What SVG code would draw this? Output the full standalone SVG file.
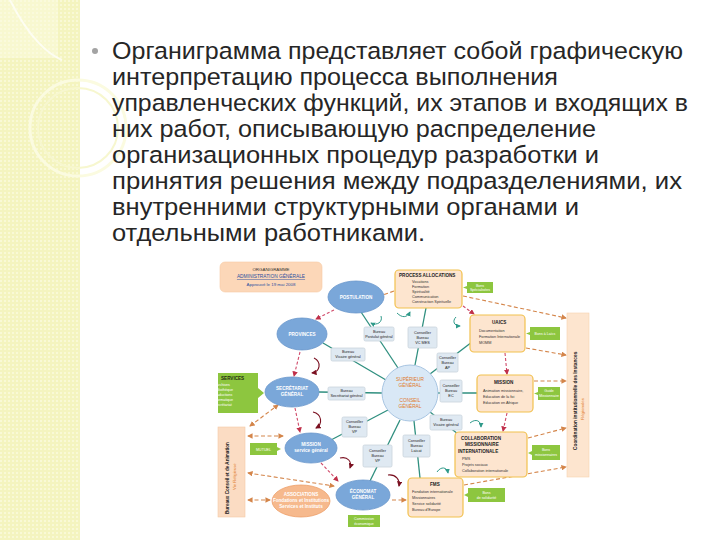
<svg xmlns="http://www.w3.org/2000/svg" width="720" height="540" viewBox="0 0 720 540">
<defs>
<pattern id="grid" width="4" height="4" patternUnits="userSpaceOnUse"><rect width="4" height="4" fill="#f4f4bf"/><rect width="2" height="2" fill="#f9f9d6"/></pattern>
<marker id="ao" viewBox="0 0 6 6" refX="5" refY="3" markerWidth="5" markerHeight="5" orient="auto-start-reverse"><path d="M0,0 L6,3 L0,6 z" fill="#d4854a"/></marker>
<marker id="ar" viewBox="0 0 6 6" refX="5" refY="3" markerWidth="5" markerHeight="5" orient="auto-start-reverse"><path d="M0,0 L6,3 L0,6 z" fill="#c0304a"/></marker>
<marker id="at" viewBox="0 0 6 6" refX="5" refY="3" markerWidth="5" markerHeight="5" orient="auto"><path d="M0,0 L6,3 L0,6 z" fill="#2f9a8a"/></marker>
<marker id="ad" viewBox="0 0 6 6" refX="5" refY="3" markerWidth="5" markerHeight="5" orient="auto"><path d="M0,0 L6,3 L0,6 z" fill="#7a1020"/></marker>
<style>
.body{font-family:"Liberation Sans","DejaVu Sans",sans-serif;font-size:24.5px;fill:#262626}
.ell{fill:#7aa7d9;stroke:#6a97cc;stroke-width:0.8}
.et{font-family:"Liberation Sans",sans-serif;font-size:4.6px;fill:#ffffff;font-weight:bold;text-anchor:middle}
.pb{fill:#fde5cf;stroke:#f2c14e;stroke-width:1.2}
.pt{font-family:"Liberation Sans",sans-serif;font-size:4.6px;fill:#222;font-weight:bold}
.pi{font-family:"Liberation Sans",sans-serif;font-size:3.8px;fill:#333}
.lb{fill:#dfe9f2;stroke:#c9d3dc;stroke-width:0.8}
.lt{font-family:"Liberation Sans",sans-serif;font-size:3.8px;fill:#222;text-anchor:middle}
.gb{fill:#8dc63f}
.gt{font-family:"Liberation Sans",sans-serif;font-size:3.6px;fill:#ffffff;text-anchor:middle}
.teal{stroke:#2f8f7f;stroke-width:1.3;fill:none}
.od{stroke:#d4854a;stroke-width:1.1;stroke-dasharray:4 2.5;fill:none}
.rd{stroke:#d04a6a;stroke-width:1.1;stroke-dasharray:3 2;fill:none}
.ct{stroke:#2f9a8a;stroke-width:1;fill:none}
.cr{stroke:#7a1020;stroke-width:1.1;fill:none}
</style>
</defs>
<rect width="720" height="540" fill="#ffffff"/>
<g id="sidebar">
<rect x="0" y="0" width="80" height="540" fill="url(#grid)"/>
<path d="M0,0 H58 V58 L0,58 Z" fill="#fbfbe2" opacity="0.5"/>
<path d="M10,0 C30,40 50,55 62,60" stroke="#ffffff" stroke-width="2" fill="none" opacity="0.7"/>
<circle cx="78" cy="128" r="48" stroke="#fbfbe0" stroke-width="3" fill="none"/>
<circle cx="78" cy="128" r="40" stroke="#f7f7cf" stroke-width="2" fill="none"/>
</g>
<g id="text">
<circle cx="95" cy="51" r="3" fill="#a3a3a3"/>
<text class="body" x="112" y="59" textLength="571" lengthAdjust="spacingAndGlyphs">Органиграмма представляет собой графическую</text>
<text class="body" x="112" y="85" textLength="446" lengthAdjust="spacingAndGlyphs">интерпретацию процесса выполнения</text>
<text class="body" x="112" y="111" textLength="576" lengthAdjust="spacingAndGlyphs">управленческих функций, их этапов и входящих в</text>
<text class="body" x="112" y="137" textLength="484" lengthAdjust="spacingAndGlyphs">них работ, описывающую распределение</text>
<text class="body" x="112" y="163" textLength="487" lengthAdjust="spacingAndGlyphs">организационных процедур разработки и</text>
<text class="body" x="112" y="189" textLength="570" lengthAdjust="spacingAndGlyphs">принятия решения между подразделениями, их</text>
<text class="body" x="112" y="215" textLength="467" lengthAdjust="spacingAndGlyphs">внутренними структурными органами и</text>
<text class="body" x="112" y="241" textLength="313" lengthAdjust="spacingAndGlyphs">отдельными работниками.</text>
</g>
<g id="connectors">
<line class="teal" x1="398" y1="368" x2="361" y2="312"/>
<line class="teal" x1="386" y1="380" x2="323" y2="343"/>
<line class="teal" x1="382" y1="393" x2="319" y2="392"/>
<line class="teal" x1="388" y1="410" x2="331" y2="440"/>
<line class="teal" x1="400" y1="420" x2="370" y2="481"/>
<line class="teal" x1="415" y1="365" x2="426" y2="308"/>
<line class="teal" x1="430" y1="374" x2="472" y2="342"/>
<line class="teal" x1="438" y1="393" x2="477" y2="393"/>
<line class="teal" x1="430" y1="412" x2="458" y2="434"/>
<line class="teal" x1="414" y1="421" x2="420" y2="478"/>
<line class="od" x1="250" y1="426" x2="278" y2="405" marker-start="url(#ao)" marker-end="url(#ao)"/>
<line class="od" x1="248" y1="436" x2="283" y2="436" marker-start="url(#ao)" marker-end="url(#ao)"/>
<line class="od" x1="248" y1="473" x2="334" y2="486" marker-start="url(#ao)" marker-end="url(#ao)"/>
<line class="od" x1="248" y1="500" x2="270" y2="500" marker-start="url(#ao)" marker-end="url(#ao)"/>
<line class="od" x1="392" y1="500" x2="406" y2="500" marker-end="url(#ao)"/>
<line class="od" x1="394" y1="291" x2="383" y2="295"/>
<line class="od" x1="463" y1="296" x2="566" y2="318" marker-end="url(#ao)"/>
<line class="od" x1="526" y1="348" x2="566" y2="355" marker-end="url(#ao)"/>
<line class="od" x1="534" y1="381" x2="566" y2="381" marker-end="url(#ao)"/>
<line class="od" x1="528" y1="438" x2="566" y2="428" marker-end="url(#ao)"/>
<line class="od" x1="464" y1="485" x2="566" y2="467" marker-end="url(#ao)"/>
<line class="rd" x1="334" y1="310" x2="316" y2="319" marker-end="url(#ar)"/>
<line class="rd" x1="300" y1="352" x2="294" y2="376" marker-end="url(#ar)"/>
<line class="rd" x1="295" y1="408" x2="300" y2="432" marker-end="url(#ar)"/>
<line class="rd" x1="321" y1="463" x2="338" y2="481" marker-end="url(#ar)"/>
<line class="rd" x1="463" y1="306" x2="474" y2="314" marker-end="url(#ar)"/>
<line class="rd" x1="505" y1="353" x2="507" y2="374" marker-end="url(#ar)"/>
<line class="rd" x1="507" y1="413" x2="503" y2="431" marker-end="url(#ar)"/>
<path class="cr" d="M314,358 C322,362 320,372 312,373" marker-end="url(#ad)"/>
<path class="cr" d="M313,412 C322,414 323,424 316,428" marker-end="url(#ad)"/>
<path class="cr" d="M340,458 C348,456 352,462 350,468" marker-end="url(#ad)"/>
<path class="cr" d="M388,475 C396,474 400,480 399,486" marker-end="url(#ad)"/>
<path class="ct" d="M381,316 C383,322 377,326 371,323" marker-end="url(#at)"/>
<path class="ct" d="M397,313 C402,318 407,318 410,312" marker-end="url(#at)"/>
<path class="ct" d="M456,317 C452,321 454,326 460,326" marker-end="url(#at)"/>
<path class="ct" d="M470,423 C476,418 481,421 481,427" marker-end="url(#at)"/>
<path class="ct" d="M437,472 C441,466 447,467 448,473" marker-end="url(#at)"/>
</g>
<g id="title-box">
<rect x="220" y="262" width="102" height="30" rx="5" fill="#fcd7b8" stroke="#f7cba5" stroke-width="0.6"/>
<text x="271" y="271" font-family="Liberation Sans,sans-serif" font-size="4.4" fill="#333" text-anchor="middle">ORGANIGRAMME</text>
<text x="271" y="278" font-family="Liberation Sans,sans-serif" font-size="4.8" fill="#2b4fa0" text-anchor="middle" text-decoration="underline">ADMINISTRATION GÉNÉRALE</text>
<text x="271" y="286" font-family="Liberation Sans,sans-serif" font-size="4.4" fill="#2b4fa0" text-anchor="middle">Approuvé le 19 mai 2008</text>
</g>
<g id="postulation"><ellipse class="ell" cx="356" cy="297" rx="28" ry="16"/><text class="et" x="356" y="299">POSTULATION</text></g>
<g id="provinces"><ellipse class="ell" cx="302" cy="334" rx="25" ry="16"/><text class="et" x="302" y="336">PROVINCES</text></g>
<g id="secretariat"><ellipse class="ell" cx="292" cy="392" rx="27" ry="15"/><text class="et" x="292" y="390">SECRÉTARIAT</text><text class="et" x="292" y="396">GÉNÉRAL</text></g>
<g id="mission-ell"><ellipse class="ell" cx="311" cy="448" rx="26" ry="15"/><text class="et" x="311" y="446">MISSION</text><text class="et" x="311" y="452">service général</text></g>
<g id="economat"><ellipse class="ell" cx="363" cy="495" rx="27" ry="15"/><text class="et" x="363" y="493">ÉCONOMAT</text><text class="et" x="363" y="499">GÉNÉRAL</text></g>
<g id="orange-ell"><ellipse cx="301" cy="501" rx="29" ry="16" fill="#f6b98d" stroke="#ed9f6a" stroke-width="0.8"/><text class="et" x="301" y="496" font-weight="normal">ASSOCIATIONS</text><text class="et" x="301" y="502" font-weight="normal">Fondations et Institutions</text><text class="et" x="301" y="508" font-weight="normal">Services et Instituts</text></g>
<g id="center">
<circle cx="410" cy="393" r="28" fill="#d9e8f6" stroke="#a8c5e2" stroke-width="1"/>
<text x="410" y="381" font-family="Liberation Sans,sans-serif" font-size="4.8" fill="#e07a2a" text-anchor="middle">SUPÉRIEUR</text>
<text x="410" y="387" font-family="Liberation Sans,sans-serif" font-size="4.8" fill="#e07a2a" text-anchor="middle">GÉNÉRAL</text>
<text x="410" y="402" font-family="Liberation Sans,sans-serif" font-size="4.8" fill="#e07a2a" text-anchor="middle">CONSEIL</text>
<text x="410" y="408" font-family="Liberation Sans,sans-serif" font-size="4.8" fill="#e07a2a" text-anchor="middle">GÉNÉRAL</text>
</g>
<g id="lb1"><rect class="lb" x="364" y="327" width="30" height="14" rx="1.5"/><text class="lt" x="379" y="333">Bureau</text><text class="lt" x="379" y="338">Postulat général</text></g>
<g id="lb2"><rect class="lb" x="331" y="348" width="34" height="13" rx="1.5"/><text class="lt" x="348" y="353">Bureau</text><text class="lt" x="348" y="358">Vicaire général</text></g>
<g id="lb3"><rect class="lb" x="328" y="387" width="37" height="13" rx="1.5"/><text class="lt" x="346.5" y="392">Bureau</text><text class="lt" x="346.5" y="397">Secrétariat général</text></g>
<g id="lb4"><rect class="lb" x="342" y="417" width="25" height="20" rx="1.5"/><text class="lt" x="354.5" y="423">Conseiller</text><text class="lt" x="354.5" y="428">Bureau</text><text class="lt" x="354.5" y="433">VP</text></g>
<g id="lb5"><rect class="lb" x="363" y="445" width="29" height="22" rx="1.5"/><text class="lt" x="377.5" y="452">Conseiller</text><text class="lt" x="377.5" y="457">Bureau</text><text class="lt" x="377.5" y="462">VP</text></g>
<g id="lb6"><rect class="lb" x="408" y="327" width="29" height="21" rx="1.5"/><text class="lt" x="422.5" y="334">Conseiller</text><text class="lt" x="422.5" y="339">Bureau</text><text class="lt" x="422.5" y="344">VC MES</text></g>
<g id="lb7"><rect class="lb" x="437" y="353" width="21" height="19" rx="1.5"/><text class="lt" x="447.5" y="359">Conseiller</text><text class="lt" x="447.5" y="364">Bureau</text><text class="lt" x="447.5" y="369">AP</text></g>
<g id="lb8"><rect class="lb" x="440" y="380" width="22" height="22" rx="1.5"/><text class="lt" x="451" y="387">Conseiller</text><text class="lt" x="451" y="392">Bureau</text><text class="lt" x="451" y="397">EC</text></g>
<g id="lb9"><rect class="lb" x="430" y="415" width="32" height="15" rx="1.5"/><text class="lt" x="446" y="421">Bureau</text><text class="lt" x="446" y="426">Vicaire général</text></g>
<g id="lb10"><rect class="lb" x="403" y="435" width="27" height="22" rx="1.5"/><text class="lt" x="416.5" y="442">Conseiller</text><text class="lt" x="416.5" y="447">Bureau</text><text class="lt" x="416.5" y="452">Laïcat</text></g>
<g id="process"><rect class="pb" x="395" y="270" width="67" height="38" rx="4"/><text class="pt" x="399" y="277">PROCESS ALLOCATIONS</text><text class="pi" x="412" y="283">Vocations</text><text class="pi" x="412" y="288">Formation</text><text class="pi" x="412" y="293">Spiritualité</text><text class="pi" x="412" y="298">Communication</text><text class="pi" x="412" y="303">Construction Spirituelle</text></g>
<g id="uaics"><rect class="pb" x="470" y="315" width="55" height="37" rx="4"/><text class="pt" x="492" y="324">UAICS</text><text class="pi" x="479" y="332">Documentation</text><text class="pi" x="479" y="338">Formation Internationale</text><text class="pi" x="479" y="344">MOMM</text></g>
<g id="mission-box"><rect class="pb" x="477" y="375" width="56" height="37" rx="4"/><text class="pt" x="494" y="384">MISSION</text><text class="pi" x="483" y="392">Animation missionnaire,</text><text class="pi" x="483" y="398">Education de la foi</text><text class="pi" x="483" y="404">Education en Afrique</text></g>
<g id="collab"><rect class="pb" x="455" y="432" width="72" height="45" rx="4"/><text class="pt" x="461" y="440">COLLABORATION</text><text class="pt" x="465" y="446">MISSIONNAIRE</text><text class="pt" x="458" y="453">INTERNATIONALE</text><text class="pi" x="462" y="460">PMS</text><text class="pi" x="462" y="466">Projets sociaux</text><text class="pi" x="462" y="472">Collaboration internationale</text></g>
<g id="fms"><rect class="pb" x="408" y="478" width="55" height="39" rx="4"/><text class="pt" x="430" y="486">FMS</text><text class="pi" x="412" y="493">Fondation internationale</text><text class="pi" x="412" y="499">Missionnaires</text><text class="pi" x="412" y="505">Service solidarité</text><text class="pi" x="412" y="511">Bureau d'Europe</text></g>
<g id="green-1"><path class="gb" d="M467,282 H493 V293 H467 V289 L463,287.5 L467,286 Z"/><text class="gt" x="480" y="287">Bons</text><text class="gt" x="480" y="291">Spécialisées</text></g>
<g id="green-2"><path class="gb" d="M530,327 H560 V340 H530 V335 L526,333.5 L530,332 Z"/><text class="gt" x="545" y="335">Bons à Laïcs</text></g>
<g id="green-3"><path class="gb" d="M538,387 H560 V400 H538 V395 L534,393.5 L538,392 Z"/><text class="gt" x="549" y="392">Guide</text><text class="gt" x="549" y="397">Missionnaire</text></g>
<g id="green-4"><path class="gb" d="M532,445 H560 V460 H532 V455 L528,453 L532,451 Z"/><text class="gt" x="546" y="451">Bons</text><text class="gt" x="546" y="456">missionnaires</text></g>
<g id="green-5"><path class="gb" d="M468,488 H505 V502 H468 V497 L464,495 L468,493 Z"/><text class="gt" x="486.5" y="494">Bons</text><text class="gt" x="486.5" y="499">de solidarité</text></g>
<g id="green-6"><path class="gb" d="M250,443 H277 V447 L281,449 L277,451 V455 H250 Z"/><text class="gt" x="263.5" y="451">MUTUEL</text></g>
<g id="green-7"><path class="gb" d="M348,515 H380 V527 H348 Z"/><text class="gt" x="364" y="520">Commission</text><text class="gt" x="364" y="525">économique</text></g>
<g id="services"><path class="gb" d="M218,373 H258 V388 L264,393 L258,398 V413 H218 Z"/><text x="221" y="380" font-family="Liberation Sans,sans-serif" font-size="4.6" font-weight="bold" fill="#1f2d10">SERVICES</text><text class="gt" x="223" y="386" text-anchor="start">Archives</text><text class="gt" x="223" y="391" text-anchor="start">Bibliothèque</text><text class="gt" x="223" y="396" text-anchor="start">Traductions</text><text class="gt" x="223" y="401" text-anchor="start">Informatique</text><text class="gt" x="223" y="406" text-anchor="start">Secrétariat</text></g>
<g id="left-bar"><rect x="218" y="427" width="27" height="90" fill="#fbdcc3" stroke="#f6caa5" stroke-width="0.6"/><text transform="translate(229,514) rotate(-90)" font-family="Liberation Sans,sans-serif" font-size="4.6" font-weight="bold" fill="#222">Bureaux Conseil et de Animation</text><text transform="translate(236,490) rotate(-90)" font-family="Liberation Sans,sans-serif" font-size="4.2" fill="#e07a2a">Vie Religieuse</text></g>
<g id="right-bar"><rect x="567" y="313" width="22" height="164" fill="#fde5cf" stroke="#f7d2b0" stroke-width="0.6"/><text transform="translate(577,450) rotate(-90)" font-family="Liberation Sans,sans-serif" font-size="4.8" font-weight="bold" fill="#222">Coordination institutionnelle des Instances</text><text transform="translate(584,420) rotate(-90)" font-family="Liberation Sans,sans-serif" font-size="4.4" fill="#e07a2a">Régionales</text></g>
</svg>
